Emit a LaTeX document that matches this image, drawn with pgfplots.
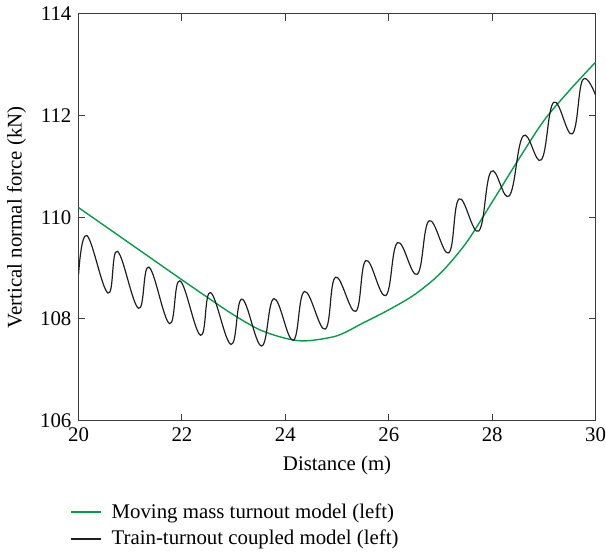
\documentclass[border=0pt]{standalone}
\usepackage{fontspec}
\setmainfont{Liberation Serif}
\usepackage{pgfplots}
\pgfplotsset{compat=1.18}
\definecolor{mgreen}{RGB}{0,158,72}
\definecolor{axgray}{RGB}{60,60,60}
\definecolor{blk}{RGB}{30,30,30}
\begin{document}
\fontsize{21}{25}\selectfont
\begin{tikzpicture}
\begin{axis}[
 scale only axis, width=521pt, height=410pt,
 xmin=20, xmax=30, ymin=106, ymax=114,
 xtick={20,22,...,30}, ytick={106,108,...,114},
 tick align=inside, major tick length=7pt,
 axis line style={axgray, line width=1.2pt},
 tick style={axgray, line width=1pt},
 every tick label/.append style={font=\fontsize{21}{25}\selectfont},
 xticklabel style={inner xsep=0pt},
 /pgf/number format/assume math mode=true,
 xlabel={Distance (m)}, ylabel={Vertical normal force (kN)},
 label style={font=\fontsize{21}{25}\selectfont},
 legend style={at={(axis description cs:-0.022,-0.193)}, anchor=north west, draw=none, fill=none, font=\fontsize{21}{25}\selectfont, row sep=5pt},
 legend cell align=left,
 legend image code/.code={\draw[#1, line width=1.8pt] (0pt,0pt) -- (30pt,0pt); \path (38pt,0pt);},
]
\addplot[color=mgreen, line width=1.4pt, smooth] coordinates {
(20,110.19) (21,109.48) (22,108.77) (22.5,108.42) (23,108.08) (23.5,107.79) (24,107.62) (24.4,107.57) (25,107.67) (25.5,107.92) (26,108.18) (26.5,108.48) (27,108.9) (27.5,109.5) (28,110.3) (28.5,111.12) (29,111.9) (29.5,112.5) (30,113.05)
};
\addlegendentry{Moving mass turnout model (left)}
\addplot[color=blk, line width=1.2pt, smooth, tension=0.7] coordinates {
(20.00,108.87) (20.16,109.64) (20.57,108.51)
(20.75,109.33) (21.16,108.21)
(21.36,109.02) (21.76,107.91)
(21.96,108.75) (22.36,107.68)
(22.55,108.52) (22.95,107.50)
(23.16,108.39) (23.54,107.47)
(23.78,108.40) (24.15,107.58)
(24.37,108.54) (24.77,107.80)
(24.97,108.82) (25.36,108.15)
(25.56,109.15) (25.94,108.46)
(26.17,109.50) (26.55,108.88)
(26.78,109.93) (27.16,109.30)
(27.36,110.36) (27.74,109.73)
(27.98,110.90) (28.33,110.42)
(28.60,111.60) (28.95,111.13)
(29.19,112.26) (29.55,111.64)
(29.75,112.70) (30.00,112.40)
};
\addlegendentry{Train-turnout coupled model (left)}
\end{axis}
\end{tikzpicture}
\end{document}
